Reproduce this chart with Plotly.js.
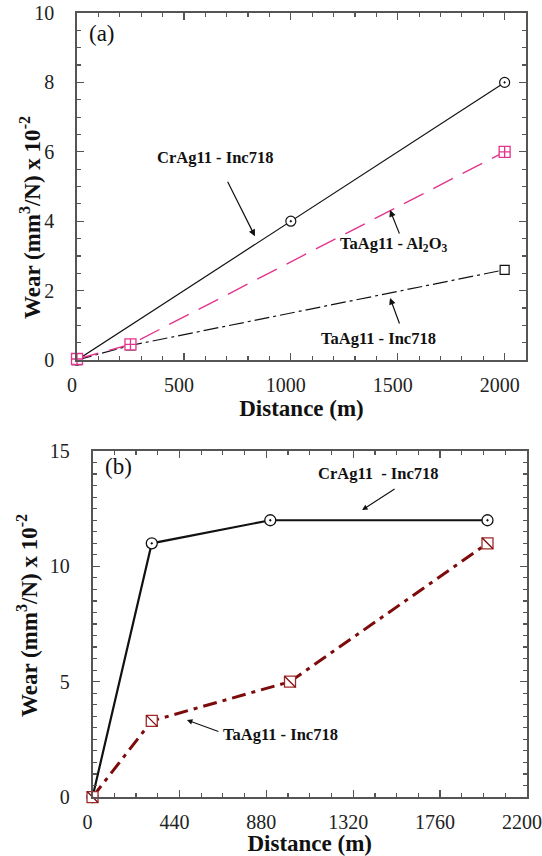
<!DOCTYPE html>
<html>
<head>
<meta charset="utf-8">
<script src="https://cdn.plot.ly/plotly-3.0.1.min.js"></script>
<style>html,body{margin:0;padding:0;background:#fff;}#chart{width:542px;height:856px;}</style>
</head>
<body>
<div id="chart"></div>
<script>
// ---- Panel (a) data ----
const distA_Cr = [0, 1000, 2000];
const wearA_Cr = [0, 4, 8];
const distA_TaAl = [0, 250, 2000];
const wearA_TaAl = [0.03, 0.45, 6];
const distA_TaInc = [0, 250, 2000];
const wearA_TaInc = [0, 0.42, 2.6];
const seriesA = ["CrAg11 - Inc718", "TaAg11 - Al<sub>2</sub>O<sub>3</sub>", "TaAg11 - Inc718"];

// ---- Panel (b) data ----
const distB_Cr = [0, 300, 900, 2000];
const wearB_Cr = [0, 11, 12, 12];
const distB_Ta = [0, 300, 1000, 2000];
const wearB_Ta = [0, 3.3, 5, 11];
const seriesB = ["CrAg11  - Inc718", "TaAg11 - Inc718"];

// ---- Axis ticks ----
const xTicksA = [0, 500, 1000, 1500, 2000];
const yTicksA = [0, 2, 4, 6, 8, 10];
const xTicksB = [0, 440, 880, 1320, 1760, 2200];
const yTicksB = [0, 5, 10, 15];

const SERIF = "Liberation Serif";
const MAGENTA = "#e2348c";
const MAROON = "#7d0b0b";
const AX = "#555";

const traces = [
  {x: distA_TaInc, y: wearA_TaInc, xaxis: "x", yaxis: "y", mode: "lines+markers", name: seriesA[2], cliponaxis: false,
   line: {color: "#111", width: 1.2, dash: "15px,4px,3px,4px"},
   marker: {symbol: "square", size: 9, color: "#fff", line: {color: "#111", width: 1.2}}},
  {x: distA_Cr, y: wearA_Cr, xaxis: "x", yaxis: "y", mode: "lines+markers", name: seriesA[0], cliponaxis: false,
   line: {color: "#111", width: 1.2},
   marker: {symbol: "circle-dot", size: 10, color: "#fff", line: {color: "#111", width: 1.2}}},
  {x: distA_TaAl, y: wearA_TaAl, xaxis: "x", yaxis: "y", mode: "lines+markers", name: seriesA[1], cliponaxis: false,
   line: {color: MAGENTA, width: 1.4, dash: "22px,11px"},
   marker: {symbol: "square-cross", size: 11, color: "#fff", line: {color: MAGENTA, width: 1.3}}},
  {x: distB_Cr, y: wearB_Cr, xaxis: "x2", yaxis: "y2", mode: "lines+markers", name: seriesB[0], cliponaxis: false,
   line: {color: "#111", width: 2.2},
   marker: {symbol: "circle-dot", size: 11, color: "#fff", line: {color: "#111", width: 1.3}}},
  {x: distB_Ta, y: wearB_Ta, xaxis: "x2", yaxis: "y2", mode: "lines+markers", name: seriesB[1], cliponaxis: false,
   line: {color: MAROON, width: 3, dash: "14px,6px,4px,6px"},
   marker: {symbol: "square", size: 11, color: "#fff", line: {color: "#a02a2a", width: 1.3}}},
  {x: distB_Ta, y: wearB_Ta, xaxis: "x2", yaxis: "y2", mode: "markers", name: seriesB[1], showlegend: false, cliponaxis: false,
   hoverinfo: "skip",
   marker: {symbol: "line-nw-open", size: 11, color: "#7d0b0b", line: {color: "#7d0b0b", width: 1.3}}}
];

function xAxis(domain, anchor, range, ticks, minorDtick) {
  return {
    domain: domain, anchor: anchor, range: range, tickmode: "array", tickvals: ticks,
    ticks: "inside", ticklen: 7, tickwidth: 1.3, tickcolor: AX,
    minor: {tickmode: "linear", tick0: 0, dtick: minorDtick, ticks: "inside", ticklen: 4, tickwidth: 1.2, tickcolor: AX, showgrid: false},
    showline: true, linecolor: AX, linewidth: 1.8, mirror: "allticks",
    showgrid: false, zeroline: false, automargin: false,
    ticklabelstandoff: 6, ticklabelshift: -5, ticklabeloverflow: "allow",
    tickfont: {family: SERIF, size: 20, color: "#222"},
    title: {text: "<b>Distance (m)</b>", font: {family: SERIF, size: 23, color: "#111"}, standoff: 4}
  };
}
function yAxis(domain, anchor, range, ticks, minorDtick) {
  return {
    domain: domain, anchor: anchor, range: range, tickmode: "array", tickvals: ticks,
    ticks: "inside", ticklen: 7, tickwidth: 1.3, tickcolor: AX,
    minor: {tickmode: "linear", tick0: 0, dtick: minorDtick, ticks: "inside", ticklen: 4, tickwidth: 1.2, tickcolor: AX, showgrid: false},
    showline: true, linecolor: AX, linewidth: 1.8, mirror: "allticks",
    showgrid: false, zeroline: false, automargin: false,
    ticklabelstandoff: 17, ticklabeloverflow: "allow",
    tickfont: {family: SERIF, size: 20, color: "#222"}
  };
}

const annFont = {family: SERIF, size: 16.5, color: "#111"};
const arrowStyle = {showarrow: true, arrowhead: 2, arrowsize: 1.1, arrowwidth: 1.2, arrowcolor: "#111", text: ""};
const titleFont = {family: SERIF, size: 23, color: "#111"};
const annotations = [
  // panel letters
  {xref: "x", yref: "y", x: 117, y: 9.42, text: "(a)", showarrow: false, font: {family: SERIF, size: 23, color: "#111"}},
  {xref: "x2", yref: "y2", x: 134, y: 14.35, text: "(b)", showarrow: false, font: {family: SERIF, size: 23, color: "#111"}},
  // panel (a) labels
  {xref: "x", yref: "y", x: 645, y: 5.85, text: "<b>" + seriesA[0] + "</b>", showarrow: false, font: annFont},
  {xref: "x", yref: "y", x: 1478, y: 3.33, text: "<b>" + seriesA[1] + "</b>", showarrow: false, font: annFont},
  {xref: "x", yref: "y", x: 1408, y: 0.63, text: "<b>" + seriesA[2] + "</b>", showarrow: false, font: annFont},
  Object.assign({xref: "x", yref: "y", x: 832, y: 3.57, ax: -28, ay: -56}, arrowStyle),
  Object.assign({xref: "x", yref: "y", x: 1464, y: 4.32, ax: 10, ay: 25}, arrowStyle),
  Object.assign({xref: "x", yref: "y", x: 1464, y: 1.79, ax: 10, ay: 27}, arrowStyle),
  // panel (b) labels
  {xref: "x2", yref: "y2", x: 1446, y: 14.04, text: "<b>" + seriesB[0] + "</b>", showarrow: false, font: annFont},
  Object.assign({xref: "x2", yref: "y2", x: 1365, y: 12.44, ax: 34, ay: -22}, arrowStyle, {arrowsize: 1, arrowwidth: 1.1}),
  {xref: "x2", yref: "y2", x: 954, y: 2.69, text: "<b>" + seriesB[1] + "</b>", showarrow: false, font: annFont},
  Object.assign({xref: "x2", yref: "y2", x: 478, y: 3.34, ax: 33, ay: 12}, arrowStyle, {arrowsize: 1, arrowwidth: 1.1}),
  // y titles
  {xref: "paper", yref: "paper", x: 0.0554, y: 0.7453, xanchor: "center", yanchor: "middle", textangle: -90, showarrow: false,
   text: "<b>Wear (mm<sup>3</sup>/N) x 10<sup>-2</sup></b>", font: titleFont},
  {xref: "paper", yref: "paper", x: 0.0498, y: 0.2815, xanchor: "center", yanchor: "middle", textangle: -90, showarrow: false,
   text: "<b>Wear (mm<sup>3</sup>/N) x 10<sup>-2</sup></b>", font: titleFont}
];

const layout = {
  width: 542, height: 856,
  margin: {l: 0, r: 0, t: 0, b: 0},
  paper_bgcolor: "#fff", plot_bgcolor: "#fff",
  font: {family: SERIF},
  showlegend: false,
  xaxis: xAxis([0.1421, 0.9705], "y", [0, 2100], xTicksA, 100),
  yaxis: yAxis([0.5794, 0.9848], "x", [0, 10], yTicksA, 0.5),
  xaxis2: xAxis([0.1707, 0.9723], "y2", [0, 2200], xTicksB, 110),
  yaxis2: yAxis([0.0689, 0.4731], "x2", [0, 15], yTicksB, 0.5),
  annotations: annotations
};

Plotly.newPlot("chart", traces, layout, {displayModeBar: false, staticPlot: true});
</script>
</body>
</html>
